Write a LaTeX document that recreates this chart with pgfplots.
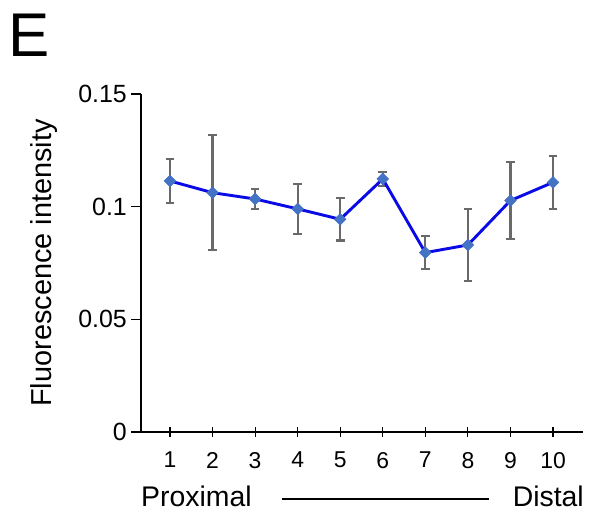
\documentclass[border=0pt]{standalone}
\usepackage{fontspec}
\setmainfont{Liberation Sans}
\usepackage{pgfplots}
\pgfplotsset{compat=1.18}
\definecolor{linblue}{RGB}{10,10,230}
\definecolor{mkblue}{RGB}{68,114,196}
\definecolor{errgray}{RGB}{105,105,105}
\begin{document}
\begin{tikzpicture}[x=1bp,y=1bp]
\path[use as bounding box] (0,0) rectangle (589,513);
\begin{axis}[
  at={(141bp,81bp)}, anchor=south west,
  scale only axis, width=442bp, height=338bp,
  xmin=0.319, xmax=10.705, ymin=0, ymax=0.15,
  axis x line=bottom, axis y line=left,
  axis line style={-, line width=1.4bp, black},
  xtick={1,...,10}, ytick={0,0.05,0.1,0.15},
  yticklabels={0,0.05,0.1,0.15},
  scaled y ticks=false,
  xtick align=center, ytick align=outside,
  major tick length=10bp,
  tick style={line width=1.2bp, black},
  /pgf/number format/assume math mode=true,
  xticklabel style={font=\fontsize{23}{26}\selectfont, anchor=north, inner sep=0pt, yshift=-15bp},
  yticklabel style={font=\fontsize{25}{28}\selectfont, anchor=east, inner sep=0pt, xshift=-4bp},
  ylabel={Fluorescence intensity},
  ylabel style={font=\fontsize{29}{32}\selectfont, at={(axis description cs:-0.2014,0.5)}, rotate=0, anchor=base, inner sep=0pt},
  clip=false,
]
\addplot[draw=none, mark=none, forget plot,
  error bars/.cd, y dir=both, y explicit,
  error bar style={color=errgray, line width=2.1bp},
  error mark options={rotate=90, mark size=4.3bp, line width=2.1bp, color=errgray}]
  coordinates {
  (1,0.1114) +- (0,0.0099)
  (2,0.1062) +- (0,0.0255)
  (3,0.1034) +- (0,0.0044)
  (4,0.0990) +- (0,0.0112)
  (5,0.0944) +- (0,0.0094)
  (6,0.1123) +- (0,0.0032)
  (7,0.0796) +- (0,0.0072)
  (8,0.0830) +- (0,0.0160)
  (9,0.1027) +- (0,0.0170)
  (10,0.1108) +- (0,0.0118)
  };
\addplot[color=linblue, line width=2.9bp, mark=square*,
  mark options={rotate=45, fill=mkblue, draw=mkblue, mark size=4.1bp, line width=0.6bp}]
  coordinates {
  (1,0.1114) (2,0.1062) (3,0.1034) (4,0.0990) (5,0.0944)
  (6,0.1123) (7,0.0796) (8,0.0830) (9,0.1027) (10,0.1108)
  };
\end{axis}
\node[anchor=base west, inner sep=0pt, font=\fontsize{62}{66}\selectfont] at (8,456) {E};
\node[anchor=base west, inner sep=0pt, font=\fontsize{28.5}{32}\selectfont] at (141,6) {Proximal};
\node[anchor=base east, inner sep=0pt, font=\fontsize{28.5}{32}\selectfont] at (584,6) {Distal};
\draw[line width=2bp] (282,14) -- (489,14);
\end{tikzpicture}
\end{document}
